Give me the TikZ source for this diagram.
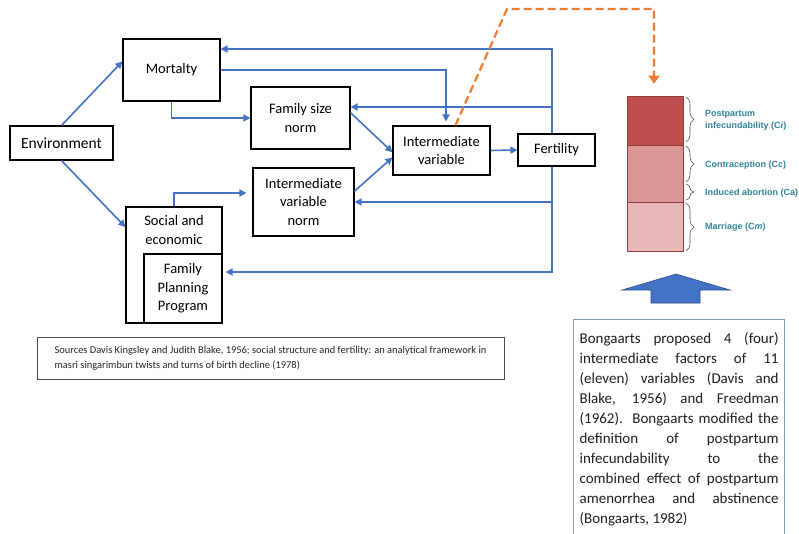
\documentclass[tikz,border=0pt]{standalone}
\usepackage{fontspec}
\setmainfont{Carlito}
\newfontfamily\legendfont{Liberation Sans}
\usetikzlibrary{arrows.meta,calc,decorations.pathreplacing}

\definecolor{flowblue}{HTML}{4472C4}
\definecolor{dashorange}{HTML}{ED7D31}
\definecolor{barci}{HTML}{C0504D}
\definecolor{barcc}{HTML}{D99694}
\definecolor{barcm}{HTML}{E6B9B8}
\definecolor{legendteal}{HTML}{31849B}
\definecolor{noteframe}{HTML}{8497B0}

\begin{document}
\begin{tikzpicture}[x=1pt,y=-1pt,
    box/.style={draw, line width=1.1pt, align=center, inner sep=0pt,
      font=\fontsize{14.5}{18.5}\selectfont},
    arr/.style={flowblue, line width=1.6pt, -{Triangle[length=7pt,width=7pt]}},
    seg/.style={draw=barci!75!black, line width=0.6pt, minimum width=56, inner sep=0pt},
    brc/.style={decorate, decoration={brace, amplitude=8pt}, draw=black!70, line width=0.6pt},
    legend/.style={anchor=west, align=left, text=legendteal, inner sep=0pt,
      font=\legendfont\bfseries\fontsize{9}{12}\selectfont}]
  \useasboundingbox (0,0) rectangle (799,533);
  % Common dimensions
  \def\spine{552}  % x of the feedback line
  \def\spinetop{49}
  \def\spinebot{272}

  % ---- Framework (left) ----
  \node[box, minimum width=103, minimum height=34, font=\fontsize{15.5}{18.5}\selectfont] (env) at (61.5,143) {Environment};
  \node[box, minimum width=97, minimum height=62] (mort) at (171.5,70) {Mortalty};
  \node[box, minimum width=99, minimum height=62] (fsn) at (300.5,118) {Family size\\norm};
  \node[box, minimum width=101, minimum height=68] (ivn) at (303.5,202) {Intermediate\\variable\\norm};
  \node[box, minimum width=96, minimum height=116] (se) at (174,265) {};
  \node[align=center, inner sep=0pt, font=\fontsize{14.5}{18.5}\selectfont] (setext) at (174,230) {Social and\\economic};
  \node[box, minimum width=78, minimum height=69] (fpp) at (183,288.5) {Family\\Planning\\Program};
  \node[box, minimum width=97, minimum height=49] (iv) at (441.5,150.5) {Intermediate\\variable};
  \node[box, minimum width=77, minimum height=32] (fert) at (556.5,150) {Fertility};

  % Forward links
  \draw[arr] (env.north) -- (mort.170);
  \draw[arr] (env.south) -- (se.142);
  \draw[arr] (mort.south) |- (fsn.west);
  \draw[arr, shorten >=6pt] (se.north) |- ([yshift=9pt]ivn.west);
  \draw[arr, shorten >=4pt] (mort.east) -| ([xshift=4.5pt]iv.north);
  \draw[arr] (fsn.6) -- (iv.182);
  \draw[arr] (ivn.12) -- (iv.188);
  \draw[arr] (iv.east) -- (fert.west);

  % Feedback from fertility
  \coordinate (bt) at (\spine,\spinetop);
  \coordinate (bb) at (\spine,\spinebot);
  \coordinate (fsnin) at ([yshift=11pt]fsn.east);
  \draw[arr] (fert.north -| bt) -- (bt) -- (bt -| mort.east);
  \draw[arr, shorten >=3pt] (fert.south -| bb) -- (bb) -- (bb -| fpp.east);
  \draw[arr] (fsnin -| bt) -- (fsnin);
  \draw[arr] (ivn.east -| bt) -- (ivn.east);

  % Sources
  \node[draw=black!70, line width=1pt, minimum width=467, minimum height=42,
    inner xsep=13pt, align=left, text=black!85, font=\fontsize{10.45}{15}\selectfont]
    (src) at (270.5,358)
    {Sources Davis Kingsley and Judith Blake, 1956; social structure and fertility: an analytical framework in\\
     masri singarimbun twists and turns of birth decline (1978)};

  % ---- Bongaarts factors (right) ----
  \node[seg, fill=barci, minimum height=49] (segci) at (655,120.5) {};
  \node[seg, fill=barcc, minimum height=57] (segcc) at (655,173.5) {};
  \node[seg, fill=barcm, minimum height=49] (segcm) at (655,226.5) {};

  % Braces and labels
  \draw[brc] (686,97) -- (686,142);
  \draw[brc] (686,146) -- (686,182);
  \draw[brc] (686,184) -- (686,200);
  \draw[brc] (686,203) -- (686,251);
  \node[legend] (lci) at (705,120) {Postpartum\\infecundability (C\textit{i})};
  \node[legend] (lcc) at (705,165) {Contraception (Cc)};
  \node[legend] (lca) at (705,193) {Induced abortion (Ca)};
  \node[legend] (lcm) at (705,227) {Marriage (C\textit{m})};

  % Dashed pointer
  \coordinate (oa) at (507,9);
  \coordinate (ob) at (654,9);
  \draw[dashorange, line width=2.2pt, dash pattern=on 8pt off 4pt,
    -{Triangle[length=8pt,width=11pt]}, shorten >=12pt]
    (iv.61) -- (oa) -- (ob) -- (ob |- segci.north);

  % Block arrow
  \filldraw[fill=flowblue, draw=flowblue!70!black, line width=0.6pt]
    (622,290) -- (676,274) -- (730,290) -- (700,290) -- (700,303)
    -- (651,303) -- (651,290) -- cycle;

  % Note
  \node[draw=noteframe, line width=1.2pt, anchor=north west, text width=199,
    minimum height=220, inner xsep=6pt, inner ysep=7pt, align=justify, text=black!88,
    font=\fontsize{15}{20}\selectfont] (note) at (573,319)
    {Bongaarts proposed 4 (four)\linebreak
     intermediate factors of 11\linebreak
     (eleven) variables (Davis and\linebreak
     Blake, 1956) and Freedman\linebreak
     (1962). Bongaarts modified the\linebreak
     definition of postpartum\linebreak
     infecundability to the\linebreak
     combined effect of postpartum\linebreak
     amenorrhea and abstinence\linebreak
     (Bongaarts, 1982)};
\end{tikzpicture}
\end{document}
